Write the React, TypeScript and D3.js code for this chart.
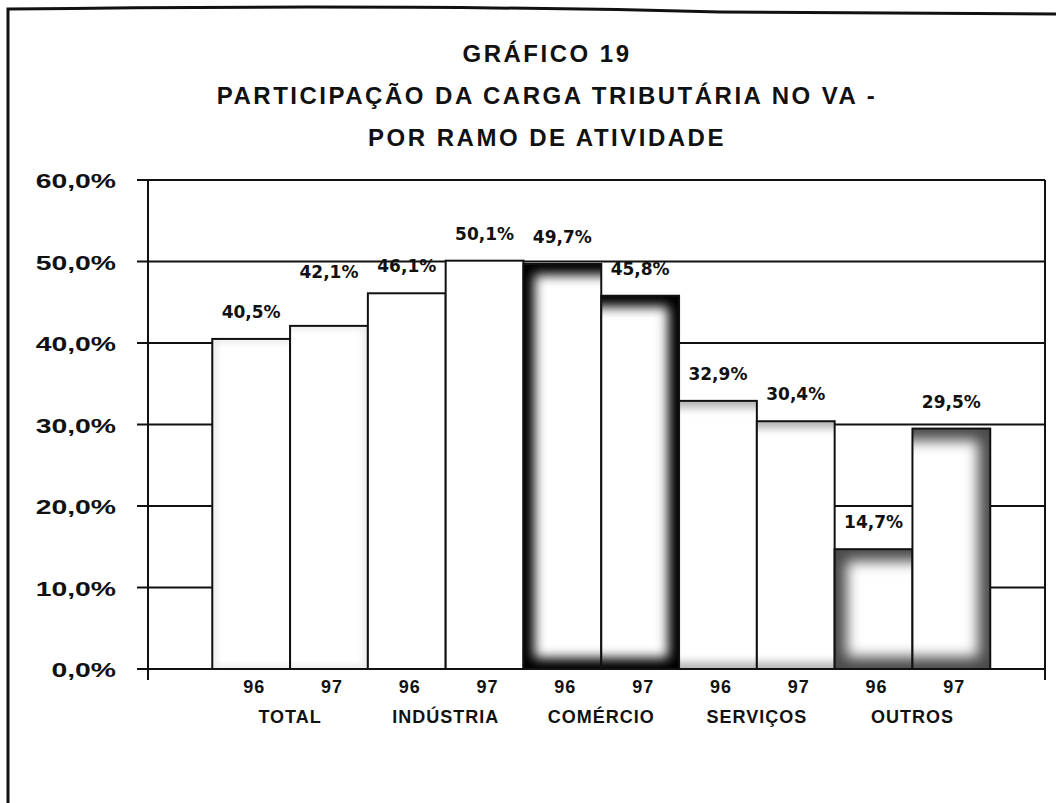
import React from 'react';
import * as d3 from 'd3';

// chart values
const categories = ['TOTAL', 'INDÚSTRIA', 'COMÉRCIO', 'SERVIÇOS', 'OUTROS'];
const years = ['96', '97'];
const values96 = [40.5, 46.1, 49.7, 32.9, 14.7];
const values97 = [42.1, 50.1, 45.8, 30.4, 29.5];
const yTicks = [0, 10, 20, 30, 40, 50, 60];
const titleLines = [
    'GRÁFICO 19',
    'PARTICIPAÇÃO DA CARGA TRIBUTÁRIA NO VA -',
    'POR RAMO DE ATIVIDADE'
];

const W = 1056;
const H = 803;
const margin = { top: 180, right: 11, bottom: 134, left: 148 };

// fill effect of each branch (edge colour fading to white in the middle)
const shading: Record<string, { edge: string, inset: number, sideInset: number, blur: number } | null> = {
    'TOTAL': { edge: '#ececec', inset: 4, sideInset: 5, blur: 3 },
    'INDÚSTRIA': null,
    'COMÉRCIO': { edge: '#000000', inset: 11, sideInset: 11, blur: 6 },
    'SERVIÇOS': { edge: '#b4b4b4', inset: 7, sideInset: -20, blur: 4 },
    'OUTROS': { edge: '#4a4a4a', inset: 12, sideInset: 12, blur: 7 }
};

// the 42,1% label sits higher in the original
const labelNudge: Record<string, number> = { 'TOTAL-97': 27 };

const fmt = (v: number) => v.toFixed(1).replace('.', ',') + '%';

export default function App() {
    const rows = categories.flatMap((c, i) => [
        { cat: c, year: years[0], value: values96[i], key: c + '-' + years[0] },
        { cat: c, year: years[1], value: values97[i], key: c + '-' + years[1] }
    ]);

    const x = d3.scaleBand<string>()
        .domain(rows.map(d => d.key))
        .range([margin.left, W - margin.right])
        .paddingInner(0)
        .paddingOuter(0.765)
        .align(0.54);
    const y = d3.scaleLinear()
        .domain([0, 60])
        .range([H - margin.bottom, margin.top]);

    const x0 = margin.left;
    const x1 = W - margin.right;
    const yBase = y(0);

    return (
        <svg width={W} height={H} style={{ position: 'absolute', left: 0, top: 0, background: '#fff' }}>
            <defs>
                {[3, 4, 6, 7].map(s => (
                    <filter key={s} id={'soft' + s} x="-50%" y="-50%" width="200%" height="200%">
                        <feGaussianBlur stdDeviation={s} />
                    </filter>
                ))}
                {rows.map((d, i) => (
                    <clipPath key={d.key} id={'barclip' + i}>
                        <rect x={x(d.key)} y={y(d.value)} width={x.bandwidth()} height={yBase - y(d.value)} />
                    </clipPath>
                ))}
            </defs>

            {/* outer frame */}
            <path d="M8,830 L8,9 Q420,4 720,12 L1070,14" fill="none" stroke="#111" strokeWidth={3} />

            {/* title */}
            <g fontFamily="'Liberation Sans', Arial, sans-serif" fontWeight="bold" fontSize={24} letterSpacing={2.5} fill="#111" textAnchor="middle">
                {titleLines.map((t, i) => (
                    <text key={i} x={547} y={62 + i * 42}>{t}</text>
                ))}
            </g>

            {/* gridlines and y axis */}
            <g stroke="#111" strokeWidth={2}>
                {yTicks.map(t => (
                    <line key={'g' + t} x1={x0} x2={x1} y1={y(t)} y2={y(t)} />
                ))}
                {yTicks.map(t => (
                    <line key={'t' + t} x1={x0 - 11} x2={x0} y1={y(t)} y2={y(t)} />
                ))}
                <line x1={x0} x2={x0} y1={y(60)} y2={yBase + 11} />
                <line x1={x1} x2={x1} y1={y(60)} y2={yBase + 11} />
            </g>

            {/* bars */}
            {rows.map((d, i) => {
                const bx = x(d.key) as number;
                const by = y(d.value);
                const bw = x.bandwidth();
                const bh = yBase - by;
                const s = shading[d.cat];
                const first = d.year === years[0];
                let inner = null;
                if (s) {
                    const left = s.sideInset < 0 ? s.sideInset : (first ? s.sideInset : -20);
                    const right = s.sideInset < 0 ? s.sideInset : (first ? -20 : s.sideInset);
                    inner = (
                        <g clipPath={'url(#barclip' + i + ')'}>
                            <rect x={bx} y={by} width={bw} height={bh} fill={s.edge} />
                            <rect x={bx + left} y={by + s.inset} width={bw - left - right} height={bh - 2 * s.inset}
                                fill="#fff" filter={'url(#soft' + s.blur + ')'} />
                        </g>
                    );
                }
                return (
                    <g key={d.key}>
                        <rect x={bx} y={by} width={bw} height={bh} fill="#fff" />
                        {inner}
                        <rect x={bx} y={by} width={bw} height={bh} fill="none" stroke="#111" strokeWidth={2} />
                    </g>
                );
            })}
            <line x1={x0} x2={x1} y1={yBase} y2={yBase} stroke="#111" strokeWidth={2} />

            {/* y tick labels */}
            <g fontFamily="'Liberation Sans', Arial, sans-serif" fontWeight="bold" fontSize={21} fill="#111" textAnchor="end">
                {yTicks.map(t => (
                    <text key={t} transform={'translate(116,' + (y(t) + 8) + ') scale(1.35,1)'}>{fmt(t)}</text>
                ))}
            </g>

            {/* value labels */}
            <g fontFamily="'DejaVu Sans', Verdana, sans-serif" fontWeight="bold" fontSize={17} fill="#111" textAnchor="middle">
                {rows.map(d => (
                    <text key={d.key} x={(x(d.key) as number) + x.bandwidth() / 2}
                        y={y(d.value) - 21 - (labelNudge[d.key] || 0)}>{fmt(d.value)}</text>
                ))}
            </g>

            {/* category axis: years and branches */}
            <g fontFamily="'Liberation Sans', Arial, sans-serif" fontWeight="bold" fontSize={18} fill="#111" textAnchor="middle" letterSpacing={1}>
                {rows.map(d => (
                    <text key={d.key} x={(x(d.key) as number) + x.bandwidth() / 2 + 3} y={yBase + 24}>{d.year}</text>
                ))}
                {categories.map(c => (
                    <text key={c} x={(x(c + '-' + years[0]) as number) + x.bandwidth()} y={yBase + 54}>{c}</text>
                ))}
            </g>
        </svg>
    );
}
